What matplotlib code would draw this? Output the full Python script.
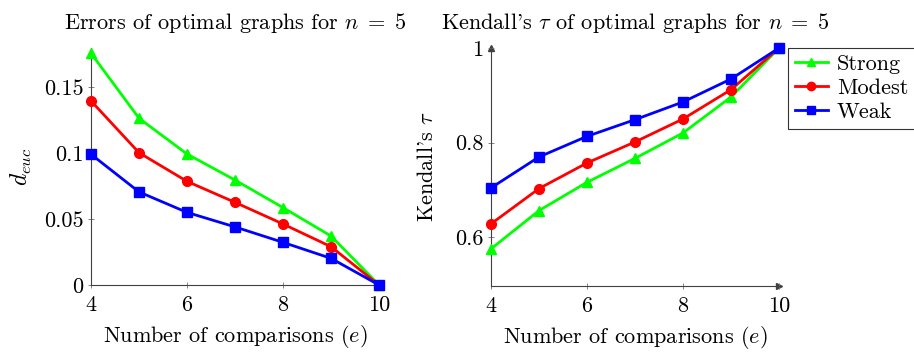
import matplotlib
matplotlib.use("Agg")
import matplotlib.pyplot as plt

plt.rcParams['font.family'] = ['cmr10', 'DejaVu Serif']
plt.rcParams['mathtext.fontset'] = 'cm'
plt.rcParams['axes.formatter.use_mathtext'] = True
FS = 16
plt.rcParams['font.size'] = FS

comparisons = [4, 5, 6, 7, 8, 9, 10]

err_strong = [0.1755, 0.1263, 0.0992, 0.0795, 0.0586, 0.0371, 0.0]
err_modest = [0.1394, 0.1002, 0.0785, 0.0626, 0.0462, 0.0290, 0.0]
err_weak = [0.0990, 0.0705, 0.0550, 0.0440, 0.0323, 0.0202, 0.0]

tau_strong = [0.5755, 0.6564, 0.7162, 0.7668, 0.8205, 0.8965, 1.0]
tau_modest = [0.6283, 0.7029, 0.7571, 0.8015, 0.8500, 0.9120, 1.0]
tau_weak = [0.7043, 0.7698, 0.8133, 0.8486, 0.8860, 0.9345, 1.0]

series_names = ['Strong', 'Modest', 'Weak']
colors = ['#00ff00', '#ff0000', '#0000ff']
markers = ['^', 'o', 's']

xticks = [4, 6, 8, 10]
err_yticks = [0, 0.05, 0.1, 0.15]
err_yticklabels = ['0', '0.05', '0.1', '0.15']
tau_yticks = [0.6, 0.8, 1.0]
tau_yticklabels = ['0.6', '0.8', '1']

fig = plt.figure(figsize=(9.14, 3.52), dpi=100)
ax1 = fig.add_axes([0.0996, 0.1903, 0.3151, 0.6733])
ax2 = fig.add_axes([0.5372, 0.1875, 0.3151, 0.6761])

axis_col = '#404040'

def style(ax):
    for s in ['top', 'right']:
        ax.spines[s].set_visible(False)
    for s in ['left', 'bottom']:
        ax.spines[s].set_color(axis_col)
        ax.spines[s].set_linewidth(0.8)
    ax.tick_params(direction='inout', length=5, width=0.6, color='#707070',
                   labelsize=FS, pad=3)
    ax.tick_params(axis='x', pad=5)
    ax.set_xticks(xticks)
    ax.set_xticklabels([str(t) for t in xticks])
    ax.set_xlabel('Number of comparisons $(e)$', fontsize=FS, labelpad=6)

for vals, c, m, n in zip([err_strong, err_modest, err_weak], colors, markers, series_names):
    ax1.plot(comparisons, vals, color=c, marker=m, lw=2, ms=7, label=n, clip_on=False, zorder=3)
ax1.set_xlim(4, 10)
ax1.set_ylim(0, 0.1795)
style(ax1)
ax1.set_yticks(err_yticks)
ax1.set_yticklabels(err_yticklabels)
ax1.set_ylabel('$d_{euc}$', fontsize=FS + 1, labelpad=7)
ax1.set_title('Errors of optimal graphs for $n\\;=\\;5$', fontsize=FS, pad=14)

lines = []
for vals, c, m, n in zip([tau_strong, tau_modest, tau_weak], colors, markers, series_names):
    l, = ax2.plot(comparisons, vals, color=c, marker=m, lw=2, ms=7, label=n, clip_on=False, zorder=3)
    lines.append(l)
ax2.set_xlim(4, 10)
ax2.set_ylim(0.497, 1.0)
style(ax2)
ax2.set_yticks(tau_yticks)
ax2.set_yticklabels(tau_yticklabels)
ax2.set_ylabel("Kendall's $\\tau$", fontsize=FS, labelpad=13)
ax2.set_title("Kendall's $\\tau$ of optimal graphs for $n\\;=\\;5$", fontsize=FS, pad=14)
# arrow heads
ax2.plot(1, 0, '>', color=axis_col, ms=4, transform=ax2.transAxes, clip_on=False, zorder=1)
ax2.plot(0, 1, '^', color=axis_col, ms=4, transform=ax2.transAxes, clip_on=False, zorder=1)

leg = fig.legend(handles=lines, labels=series_names, loc='upper left',
                 bbox_to_anchor=(0.862, 0.8636), frameon=True, fancybox=False,
                 edgecolor='black', fontsize=FS, handlelength=1.5,
                 borderpad=0.3, labelspacing=0.2, handletextpad=0.4,
                 borderaxespad=0)
leg.get_frame().set_linewidth(0.8)
for h in leg.legend_handles:
    h.set_markersize(6)

fig.savefig('out.png', dpi=100)
